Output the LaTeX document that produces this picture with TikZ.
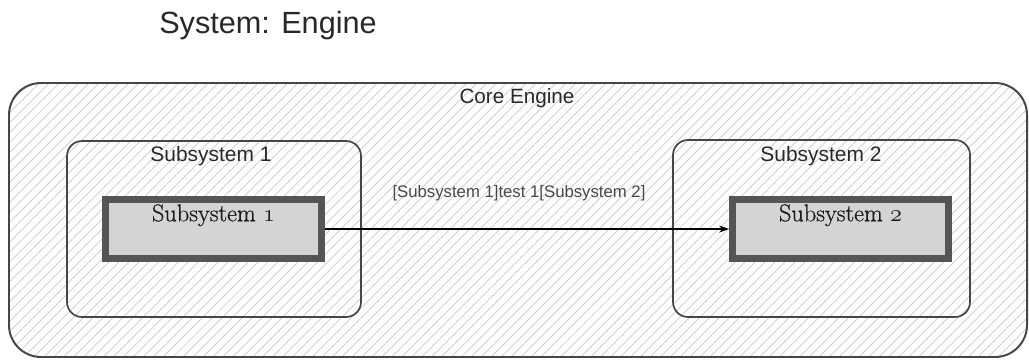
\documentclass[tikz,border=0pt]{standalone}
\usepackage{fontspec}
\setmainfont{Latin Modern Roman}
\newfontfamily\labelfont{Liberation Sans}
\newfontfamily\boxfont{Latin Modern Roman}[FakeBold=0.6]
\definecolor{EngLine}{RGB}{70,70,70}
\definecolor{EngText}{RGB}{40,40,40}
\definecolor{EngHatch}{RGB}{200,200,200}
\definecolor{SubFill}{RGB}{212,212,212}
\definecolor{SubBorder}{RGB}{85,85,85}
\usetikzlibrary{positioning, arrows.meta, patterns.meta}

\begin{document}
\begin{tikzpicture}[
  container/.style={draw=EngLine, line width=1.2pt, rounded corners=0.375cm, inner sep=0pt},
  subbox/.style={draw=SubBorder, line width=5pt, fill=SubFill, minimum width=5.4cm, minimum height=1.475cm, inner sep=0pt},
  sublabel/.style={font=\labelfont\fontsize{14.9}{17}\selectfont, text=EngText},
  subtext/.style={font=\boxfont\fontsize{17.3}{20}\selectfont, text=black!90, inner sep=0pt, anchor=north},
  msg/.style={-{Stealth[length=7pt, width=5pt]}, line width=0.8pt, black}
]
\useasboundingbox (0,0) rectangle (25.725,9.025);
\node[font=\labelfont\fontsize{21.8}{26}\selectfont, text=EngText] (title) at (6.7,8.39) {System: Engine};

% outer system box with hatching
\node[draw=EngLine, line width=1.4pt, rounded corners=0.8cm, minimum width=25.45cm, minimum height=6.85cm,
  pattern={Lines[angle=45, distance=5pt, line width=0.5pt]}, pattern color=EngHatch] (core) at (12.95,3.525) {};
\node[font=\labelfont\fontsize{14.7}{17}\selectfont, text=EngText] (corelbl) at (12.925,6.575) {Core Engine};

% subsystem containers
\node[container, minimum width=7.35cm, minimum height=4.4cm] (cont1) at (5.35,3.3) {};
\node[sublabel] (cont1lbl) at (5.275,5.125) {Subsystem 1};
\node[container, minimum width=7.425cm, minimum height=4.425cm] (cont2) at (20.5375,3.3125) {};
\node[sublabel] (cont2lbl) at (20.525,5.125) {Subsystem 2};

% subsystem boxes
\node[subbox] (sub1) at (5.3375,3.3) {};
\node[subtext, below=0.2cm of sub1.north] (sub1txt) {Subsystem $\mathnormal{1}$};
\node[subbox] (sub2) at (21.0125,3.3) {};
\node[subtext, below=0.2cm of sub2.north] (sub2txt) {Subsystem $\mathnormal{2}$};

% message
\draw[msg] (sub1.east) -- (sub2.west);
\node[font=\labelfont\fontsize{11.9}{14}\selectfont, text=EngText!85] (msglbl) at (12.975,4.2) {[Subsystem 1]test 1[Subsystem 2]};
\end{tikzpicture}
\end{document}
